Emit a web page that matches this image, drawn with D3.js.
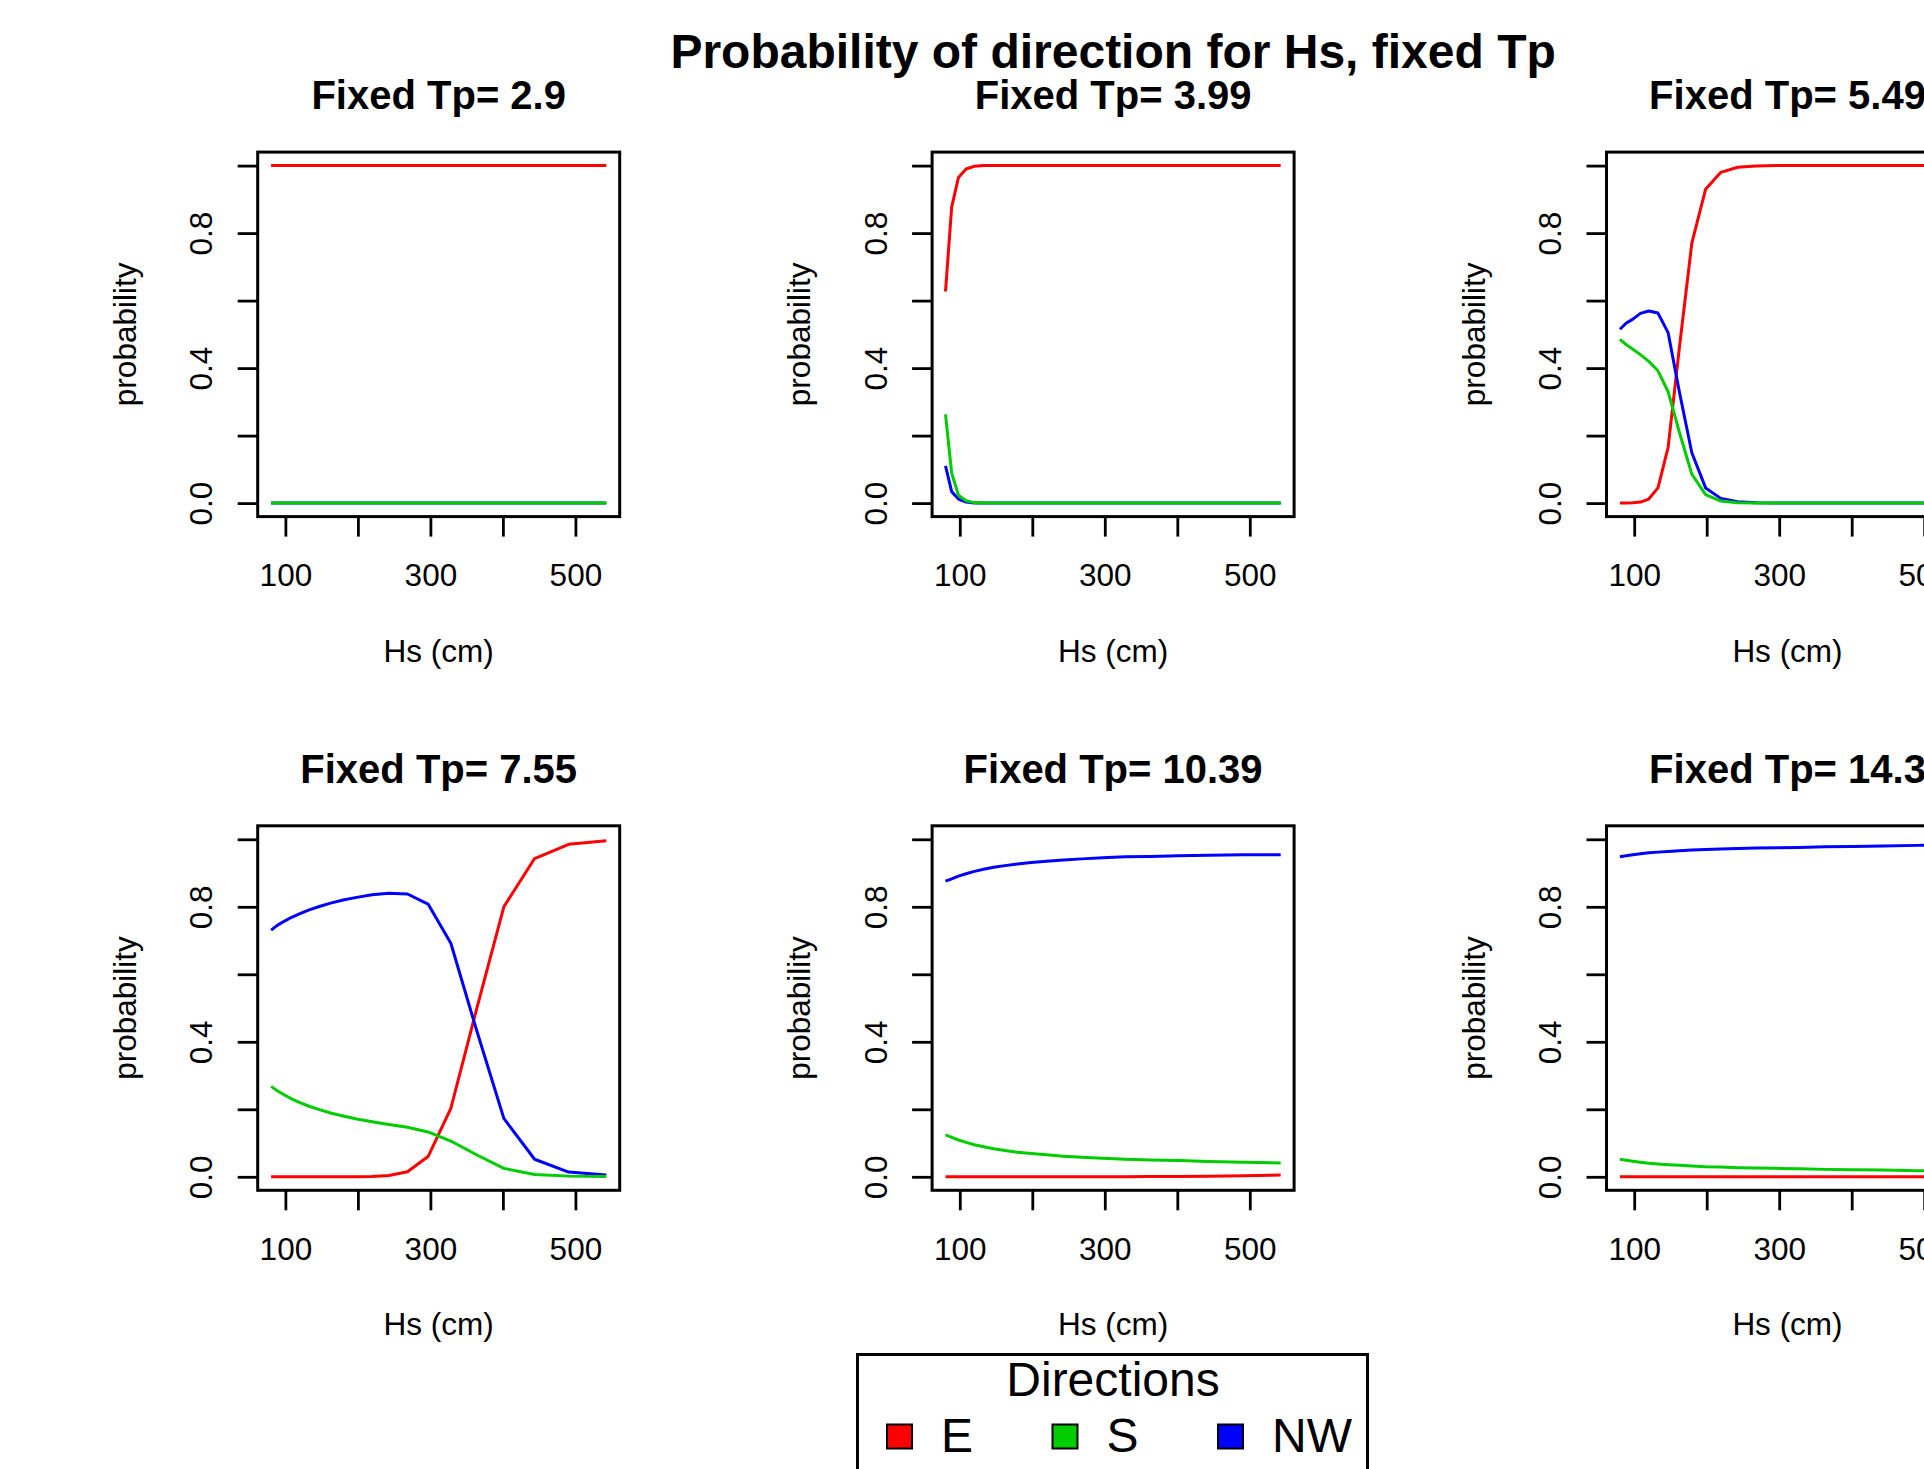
<!DOCTYPE html>
<meta charset="utf-8">
<style>
  body { margin: 0; background: #fff; }
  svg { display: block; font-family: "Liberation Sans", Arial, sans-serif; }
</style>

<svg width="1924" height="1469"></svg>

<script src="https://d3js.org/d3.v7.min.js"></script>
<script>

// Hs values (cm) used for every panel
var hs = [80.3, 88.8, 98.2, 108.6, 120.1, 132.8, 146.8, 162.3, 179.5, 198.5,
          219.5, 242.7, 268.4, 296.8, 328.2, 362.9, 401.3, 443.7, 490.7, 542.6]

// one panel per fixed Tp
var tpValues = [2.9, 3.99, 5.49, 7.55, 10.39, 14.3]

var directions = ["E", "S", "NW"]

// probability of E for each Tp
var probE = [
  [1, 1, 1, 1, 1, 1, 1, 1, 1, 1, 1, 1, 1, 1, 1, 1, 1, 1, 1, 1],
  [0.627, 0.877, 0.965, 0.99, 0.998, 1, 1, 1, 1, 1, 1, 1, 1, 1, 1, 1, 1, 1, 1, 1],
  [0, 0.0005, 0.001, 0.003, 0.012, 0.045, 0.165, 0.46, 0.77, 0.93, 0.98, 0.995, 0.999, 1, 1, 1, 1, 1, 1, 1],
  [0, 0, 0, 0, 0, 0, 0, 0, 0, 0.0005, 0.001, 0.004, 0.015, 0.06, 0.203, 0.49, 0.8, 0.943, 0.985, 0.996],
  [0, 0, 0, 0, 0, 0, 0, 0, 0, 0, 0, 0, 0, 0, 0.0003, 0.0006, 0.001, 0.0017, 0.003, 0.005],
  [0, 0, 0, 0, 0, 0, 0, 0, 0, 0, 0, 0, 0, 0, 0, 0, 0, 0, 0, 0]
]

// probability of S for each Tp
var probS = [
  [0, 0, 0, 0, 0, 0, 0, 0, 0, 0, 0, 0, 0, 0, 0, 0, 0, 0, 0, 0],
  [0.263, 0.089, 0.023, 0.007, 0.0015, 0.0003, 0, 0, 0, 0, 0, 0, 0, 0, 0, 0, 0, 0, 0, 0],
  [0.485, 0.47, 0.456, 0.44, 0.42, 0.392, 0.33, 0.21, 0.086, 0.025, 0.006, 0.001, 0, 0, 0, 0, 0, 0, 0, 0],
  [0.268, 0.255, 0.243, 0.231, 0.22, 0.209, 0.199, 0.189, 0.18, 0.171, 0.163, 0.155, 0.147, 0.133, 0.106, 0.066, 0.025, 0.007, 0.002, 0.001],
  [0.124, 0.117, 0.109, 0.102, 0.095, 0.089, 0.083, 0.078, 0.073, 0.069, 0.065, 0.061, 0.058, 0.055, 0.052, 0.05, 0.048, 0.045, 0.043, 0.041],
  [0.052, 0.049, 0.046, 0.043, 0.04, 0.038, 0.036, 0.034, 0.032, 0.03, 0.029, 0.027, 0.026, 0.025, 0.024, 0.022, 0.021, 0.02, 0.018, 0.017]
]

// probability of NW for each Tp
var probNW = [
  [0, 0, 0, 0, 0, 0, 0, 0, 0, 0, 0, 0, 0, 0, 0, 0, 0, 0, 0, 0],
  [0.11, 0.034, 0.012, 0.003, 0.0005, 0, 0, 0, 0, 0, 0, 0, 0, 0, 0, 0, 0, 0, 0, 0],
  [0.515, 0.533, 0.545, 0.562, 0.569, 0.563, 0.505, 0.33, 0.149, 0.045, 0.014, 0.004, 0.001, 0, 0, 0, 0, 0, 0, 0],
  [0.731, 0.745, 0.757, 0.769, 0.78, 0.791, 0.801, 0.811, 0.82, 0.828, 0.836, 0.84, 0.838, 0.808, 0.692, 0.44, 0.173, 0.052, 0.014, 0.005],
  [0.876, 0.883, 0.891, 0.898, 0.905, 0.911, 0.917, 0.922, 0.927, 0.931, 0.935, 0.939, 0.942, 0.945, 0.948, 0.949, 0.951, 0.953, 0.954, 0.954],
  [0.948, 0.951, 0.954, 0.957, 0.96, 0.962, 0.964, 0.966, 0.968, 0.97, 0.971, 0.973, 0.974, 0.975, 0.976, 0.978, 0.979, 0.98, 0.982, 0.983]
]

var yTicks = [0, 0.2, 0.4, 0.6, 0.8, 1]
var yTickLabels = [0, 0.4, 0.8]
var xTicks = [100, 200, 300, 400, 500]
var xTickLabels = [100, 300, 500]

var colors = { E: "#ff0000", S: "#00cd00", NW: "#0000ff" }
// drawing order, S ends up on top like the original
var drawOrder = ["E", "NW", "S"]

// layout of the 3 x 2 grid
var boxLeft = 257.7
var boxTop = 152.1
var colStep = 674.4
var rowStep = 673.7
var boxW = 362
var boxH = 364.5
var tickLen = 20
var baseFont = 31.5

var svg = d3.select("svg")

// R style axis ranges, 4% padding
var xPad = (d3.max(hs) - d3.min(hs)) * 0.04
var x = d3.scaleLinear()
    .domain([d3.min(hs) - xPad, d3.max(hs) + xPad])
    .range([0, boxW])

var y = d3.scaleLinear()
    .domain([-0.04, 1.04])
    .range([boxH, 0])

function seriesFor(dir, i) {
  var vals = dir === "E" ? probE[i] : dir === "S" ? probS[i] : probNW[i]
  return vals.map(function (v, k) { return { hs: hs[k], p: v } })
}

var line = d3.line()
    .x(function (d) { return x(d.hs) })
    .y(function (d) { return y(d.p) })

// main title
svg.append("text")
    .attr("x", boxLeft + colStep + boxW / 2)
    .attr("y", 68)
    .attr("text-anchor", "middle")
    .attr("font-size", 48)
    .attr("font-weight", "bold")
    .text("Probability of direction for Hs, fixed Tp")

tpValues.forEach(function (tp, i) {
  var col = i % 3
  var row = Math.floor(i / 3)
  var g = svg.append("g")
      .attr("transform", "translate(" + (boxLeft + col * colStep) + "," + (boxTop + row * rowStep) + ")")

  // curves
  drawOrder.forEach(function (dir) {
    g.append("path")
        .datum(seriesFor(dir, i))
        .attr("d", line)
        .attr("fill", "none")
        .attr("stroke", colors[dir])
        .attr("stroke-width", 3)
        .attr("stroke-linejoin", "round")
  })

  // y axis
  var yAxis = g.append("g")
      .call(d3.axisLeft(y)
        .tickValues(yTicks)
        .tickSize(tickLen)
        .tickFormat(function (d) { return yTickLabels.indexOf(d) >= 0 ? d3.format(".1f")(d) : "" }))
  yAxis.select(".domain").remove()
  yAxis.selectAll("line").attr("stroke", "#000").attr("stroke-width", 2.8)
  yAxis.selectAll("text")
      .attr("x", null)
      .attr("dy", null)
      .attr("transform", "translate(-45.5,0) rotate(-90)")
      .attr("text-anchor", "middle")
      .attr("fill", "#000")
      .attr("font-size", baseFont)
      .attr("font-family", null)

  // x axis
  var xAxis = g.append("g")
      .attr("transform", "translate(0," + boxH + ")")
      .call(d3.axisBottom(x)
        .tickValues(xTicks)
        .tickSize(tickLen)
        .tickFormat(function (d) { return xTickLabels.indexOf(d) >= 0 ? d : "" }))
  xAxis.select(".domain").remove()
  xAxis.selectAll("line").attr("stroke", "#000").attr("stroke-width", 2.8)
  xAxis.selectAll("text")
      .attr("y", 69.5)
      .attr("dy", null)
      .attr("fill", "#000")
      .attr("font-size", baseFont)
      .attr("font-family", null)

  // plot box
  g.append("rect")
      .attr("x", 0)
      .attr("y", 0)
      .attr("width", boxW)
      .attr("height", boxH)
      .attr("fill", "none")
      .attr("stroke", "#000")
      .attr("stroke-width", 3)

  // panel title
  g.append("text")
      .attr("x", boxW / 2)
      .attr("y", -43)
      .attr("text-anchor", "middle")
      .attr("font-size", 40)
      .attr("font-weight", "bold")
      .text("Fixed Tp= " + tp)

  // axis titles
  g.append("text")
      .attr("x", boxW / 2)
      .attr("y", boxH + 145)
      .attr("text-anchor", "middle")
      .attr("font-size", baseFont)
      .text("Hs (cm)")

  g.append("text")
      .attr("transform", "translate(" + (136 - boxLeft) + "," + (boxH / 2) + ") rotate(-90)")
      .attr("text-anchor", "middle")
      .attr("font-size", baseFont)
      .text("probability")
})

// legend at the bottom
var legend = svg.append("g")

legend.append("rect")
    .attr("x", 857.5)
    .attr("y", 1354.5)
    .attr("width", 510)
    .attr("height", 200)
    .attr("fill", "#fff")
    .attr("stroke", "#000")
    .attr("stroke-width", 3)

legend.append("text")
    .attr("x", 1113)
    .attr("y", 1395.5)
    .attr("text-anchor", "middle")
    .attr("font-size", 48)
    .text("Directions")

var legendItems = legend.selectAll(".item")
  .data(directions)
  .enter().append("g")
    .attr("class", "item")
    .attr("transform", function (d, k) { return "translate(" + (887 + k * 165.5) + ",0)" })

legendItems.append("rect")
    .attr("x", 0)
    .attr("y", 1424.5)
    .attr("width", 25)
    .attr("height", 24)
    .attr("fill", function (d) { return colors[d] })
    .attr("stroke", "#000")
    .attr("stroke-width", 2)

legendItems.append("text")
    .attr("x", 54)
    .attr("y", 1451.5)
    .attr("font-size", 48)
    .text(function (d) { return d })

</script>
